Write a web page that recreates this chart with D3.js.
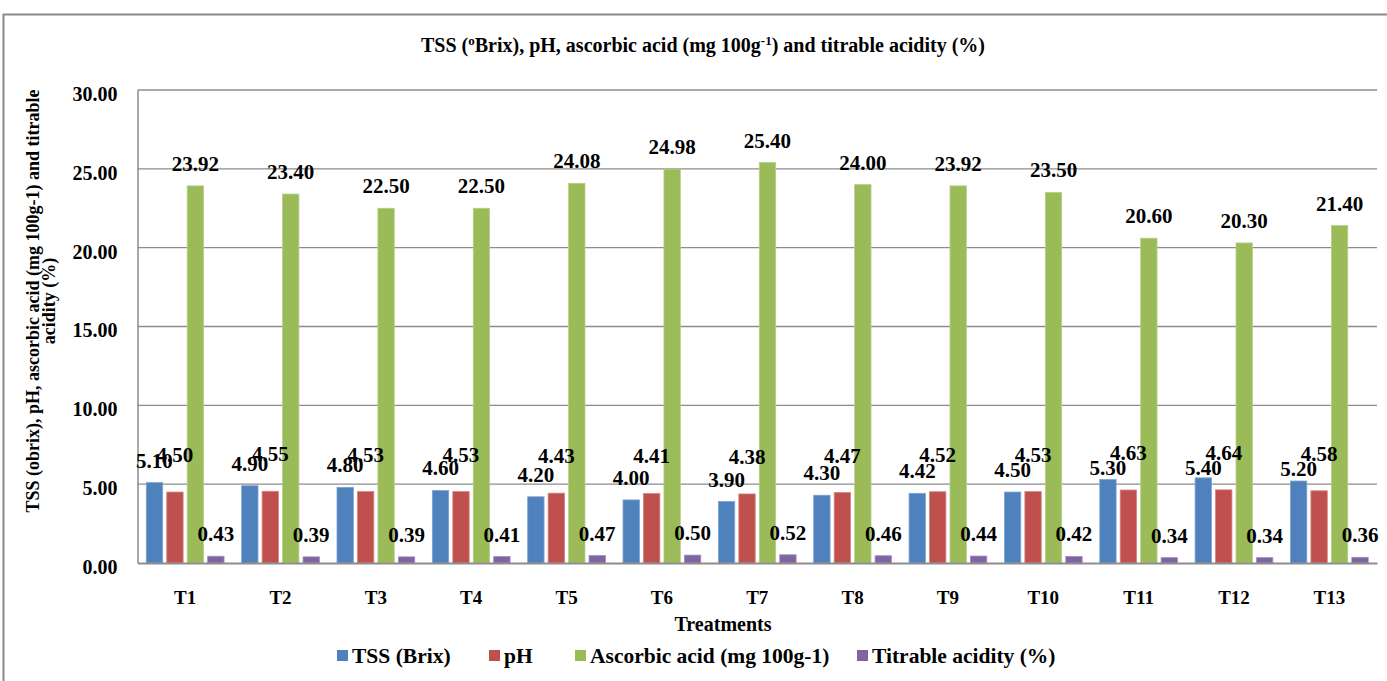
<!DOCTYPE html>
<html><head><meta charset="utf-8">
<script src="https://cdn.jsdelivr.net/npm/d3@7"></script>
<style>
html,body{margin:0;padding:0;background:#fff;}
</style></head>
<body>
<svg id="chart" width="1387" height="681" style="font-family:'Liberation Serif',serif;font-weight:bold"></svg>
<script>
const categories = ["T1","T2","T3","T4","T5","T6","T7","T8","T9","T10","T11","T12","T13"];
const tss = [5.10,4.90,4.80,4.60,4.20,4.00,3.90,4.30,4.42,4.50,5.30,5.40,5.20];
const ph = [4.50,4.55,4.53,4.53,4.43,4.41,4.38,4.47,4.52,4.53,4.63,4.64,4.58];
const ascorbic = [23.92,23.40,22.50,22.50,24.08,24.98,25.40,24.00,23.92,23.50,20.60,20.30,21.40];
const acidity = [0.43,0.39,0.39,0.41,0.47,0.50,0.52,0.46,0.44,0.42,0.34,0.34,0.36];
const seriesNames = ["TSS (Brix)","pH","Ascorbic acid (mg 100g-1)","Titrable acidity (%)"];
const seriesColors = ["#4F81BD","#C0504D","#9BBB59","#8064A2"];
const seriesStroke = ["#7fa3d1","#d48482","#b7cf87","#a18cbd"];
const yTicks = [0,5,10,15,20,25,30];

const FONT = "'Liberation Serif','Times New Roman',serif";
const svg = d3.select("#chart");
const plot = {left:137.5, right:1377, top:90, bottom:563};
function txt(sel){ return sel.style("font-family",FONT).style("font-weight","bold").attr("fill","#000"); }

// outer frame
svg.append("path").attr("d","M3.5,700 V14.5 H1400")
  .attr("fill","none").attr("stroke","#8a8a8a").attr("stroke-width",2);

const x0 = d3.scaleBand().domain(categories).range([plot.left, plot.right]).padding(0);
const x1 = d3.scaleBand().domain(d3.range(4)).range([0, x0.bandwidth()])
  .paddingInner(0.2).paddingOuter(0.43);
const y = d3.scaleLinear().domain([0,30]).range([plot.bottom, plot.top]);

// gridlines
svg.append("g").selectAll("line").data(yTicks.filter(d=>d>0)).join("line")
  .attr("x1",plot.left).attr("x2",plot.right)
  .attr("y1",d=>y(d)).attr("y2",d=>y(d))
  .attr("stroke","#8c8c8c").attr("stroke-width",1.3);

// y axis
const yAxis = d3.axisLeft(y).tickValues(yTicks).tickFormat(d3.format(".2f")).tickSize(0).tickPadding(20);
const gy = svg.append("g").attr("transform",`translate(${plot.left},0)`).call(yAxis);
gy.select(".domain").attr("stroke","#8c8c8c").attr("stroke-width",1.5);
txt(gy.selectAll("text")).attr("font-size",20).attr("dy","0.72em").attr("y",-4);

// bars
const series = [tss, ph, ascorbic, acidity];
const rows = categories.map((c,i)=>({cat:c, vals:series.map(s=>s[i])}));
const groups = svg.append("g").selectAll("g").data(rows).join("g")
  .attr("transform",d=>`translate(${x0(d.cat)},0)`);
groups.selectAll("rect").data(d=>d.vals.map((v,k)=>({k,v}))).join("rect")
  .attr("x",d=>x1(d.k)).attr("width",x1.bandwidth())
  .attr("y",d=>y(d.v)).attr("height",d=>y(0)-y(d.v))
  .attr("fill",d=>seriesColors[d.k]).attr("stroke",d=>seriesStroke[d.k]).attr("stroke-width",0.8);

// x axis
const xAxis = d3.axisBottom(x0).tickSize(0).tickPadding(28);
const gx = svg.append("g").attr("transform",`translate(0,${plot.bottom})`).call(xAxis);
gx.select(".domain").attr("stroke","#8c8c8c").attr("stroke-width",2);
txt(gx.selectAll("text")).attr("font-size",19).attr("dy",0).attr("y",41);

// data labels
const labelsG = svg.append("g");
rows.forEach((r,i)=>{
  const gxo = x0(r.cat);
  const base = r.vals.map(v=>y(v)-15);
  const phBase = y(r.vals[1]) - 30;
  let tssBase = base[0];
  if (tssBase < phBase + 5.5) tssBase = phBase + 15;
  const bl = [tssBase, phBase, base[2], base[3]];
  r.vals.forEach((v,k)=>{
    txt(labelsG.append("text"))
      .attr("x", gxo + x1(k) + x1.bandwidth()/2)
      .attr("y", bl[k])
      .attr("text-anchor","middle")
      .attr("font-size",21)
      .text(d3.format(".2f")(v));
  });
});

// title
const title = txt(svg.append("text")).attr("x",703).attr("y",52).attr("text-anchor","middle").attr("font-size",20);
title.append("tspan").text("TSS (");
title.append("tspan").attr("font-size",13).attr("dy",-7).text("o");
title.append("tspan").attr("dy",7).text("Brix), pH, ascorbic acid (mg 100g");
title.append("tspan").attr("font-size",13).attr("dy",-7).text("-1");
title.append("tspan").attr("dy",7).text(") and titrable acidity (%)");

// y title
const yt = txt(svg.append("text")).attr("transform","translate(39,301) rotate(-90)")
  .attr("text-anchor","middle").attr("font-size",18);
yt.append("tspan").attr("x",0).attr("y",0).text("TSS (obrix), pH, ascorbic acid (mg 100g-1) and titrable");
yt.append("tspan").attr("x",0).attr("y",16).text("acidity (%)");

// x title
txt(svg.append("text")).attr("x",723).attr("y",631).attr("text-anchor","middle").attr("font-size",20).text("Treatments");

// legend
const legendX = [337, 489, 575, 857];
const lg = svg.append("g");
seriesNames.forEach((n,k)=>{
  lg.append("rect").attr("x",legendX[k]).attr("y",650).attr("width",11).attr("height",11).attr("fill",seriesColors[k]);
  txt(lg.append("text")).attr("x",legendX[k]+15).attr("y",663).attr("font-size",21.5).text(n);
});
</script>
</body></html>
